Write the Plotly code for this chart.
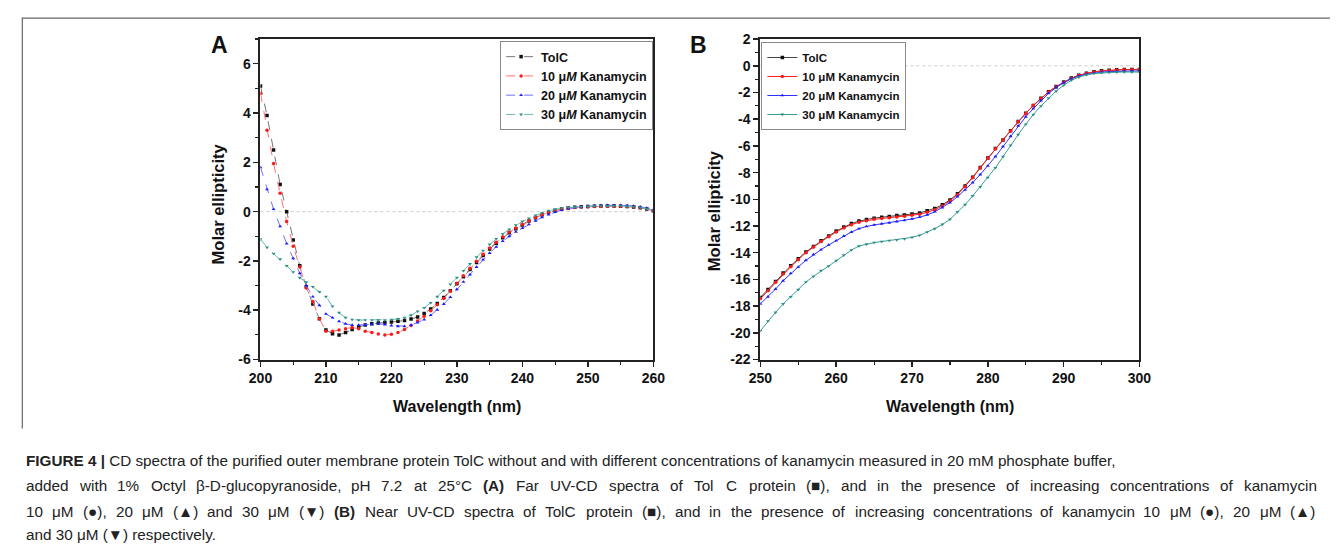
import plotly.graph_objects as go

W, H = 1342, 554

# ---------------- data ----------------
wl_a = list(range(200, 261))
tolc_a = [5.1, 3.9, 2.5, 1.1, 0.0, -1.15, -2.2, -3.05, -3.75, -4.35, -4.8,
          -4.95, -5.0, -4.9, -4.78, -4.68, -4.6, -4.55, -4.52, -4.5, -4.48,
          -4.45, -4.42, -4.36, -4.27, -4.13, -3.95, -3.73, -3.48, -3.21, -2.93,
          -2.64, -2.35, -2.06, -1.78, -1.52, -1.28, -1.06, -0.86, -0.69, -0.54,
          -0.38, -0.25, -0.13, -0.03, 0.05, 0.11, 0.15, 0.18, 0.2, 0.21,
          0.22, 0.23, 0.23, 0.23, 0.22, 0.21, 0.19, 0.16, 0.11, 0.04]
kan10_a = [4.8, 3.3, 1.95, 0.75, -0.4, -1.4, -2.25, -3.1, -3.65, -4.35, -4.85,
           -4.85, -4.8, -4.75, -4.7, -4.75, -4.85, -4.9, -4.96, -5.0, -4.97,
           -4.9, -4.78, -4.62, -4.44, -4.24, -4.02, -3.78, -3.52, -3.22, -2.9,
           -2.6, -2.3, -2.01, -1.73, -1.47, -1.24, -1.02, -0.83, -0.66, -0.51,
           -0.37, -0.24, -0.12, -0.03, 0.05, 0.1, 0.14, 0.17, 0.19, 0.2,
           0.21, 0.21, 0.22, 0.22, 0.22, 0.21, 0.2, 0.17, 0.12, 0.05]
kan20_a = [1.8, 0.9, 0.1, -0.6, -1.3, -1.9, -2.5, -3.0, -3.45, -3.8, -4.15,
           -4.3, -4.45, -4.55, -4.6, -4.6, -4.6, -4.57, -4.55, -4.58, -4.62,
           -4.65, -4.65, -4.6, -4.5, -4.38, -4.2, -3.98, -3.75, -3.47, -3.15,
           -2.85, -2.55, -2.25, -1.95, -1.68, -1.43, -1.2, -1.0, -0.82, -0.67,
           -0.52, -0.37, -0.23, -0.12, -0.02, 0.06, 0.12, 0.17, 0.2, 0.22,
           0.24, 0.25, 0.26, 0.26, 0.26, 0.25, 0.23, 0.2, 0.15, 0.08]
kan30_a = [-1.12, -1.45, -1.7, -1.93, -2.2, -2.45, -2.68, -2.86, -3.05, -3.25, -3.45,
           -3.84, -4.1, -4.3, -4.38, -4.4, -4.4, -4.4, -4.4, -4.4, -4.38,
           -4.35, -4.3, -4.2, -4.05, -3.9, -3.7, -3.45, -3.2, -2.95, -2.68,
           -2.4, -2.12, -1.85, -1.58, -1.33, -1.1, -0.9, -0.72, -0.55, -0.4,
           -0.27, -0.15, -0.05, 0.04, 0.1, 0.14, 0.17, 0.19, 0.2, 0.21,
           0.22, 0.23, 0.23, 0.23, 0.23, 0.22, 0.2, 0.17, 0.12, 0.06]

wl_b = list(range(250, 301))
tolc_b = [-17.35, -16.76, -16.15, -15.52, -14.98, -14.45, -13.94, -13.53, -13.11, -12.75,
          -12.38, -12.07, -11.82, -11.63, -11.51, -11.41, -11.34, -11.29, -11.22, -11.17,
          -11.1, -11.02, -10.85, -10.68, -10.41, -10.05, -9.58, -9.0, -8.35, -7.62,
          -6.9, -6.2, -5.55, -4.87, -4.18, -3.55, -2.97, -2.43, -1.95, -1.56,
          -1.22, -0.92, -0.7, -0.55, -0.45, -0.38, -0.33, -0.3, -0.28, -0.27, -0.27]
kan10_b = [-17.45, -16.85, -16.22, -15.6, -15.05, -14.52, -14.0, -13.58, -13.16, -12.8,
           -12.45, -12.14, -11.9, -11.72, -11.6, -11.5, -11.43, -11.38, -11.32, -11.27,
           -11.2, -11.12, -10.97, -10.78, -10.5, -10.12, -9.65, -9.05, -8.38, -7.65,
           -6.92, -6.22, -5.55, -4.88, -4.2, -3.57, -2.98, -2.45, -1.97, -1.58,
           -1.24, -0.95, -0.73, -0.57, -0.47, -0.4, -0.35, -0.32, -0.3, -0.29, -0.28]
kan20_b = [-17.83, -17.3, -16.72, -16.1, -15.55, -15.06, -14.57, -14.14, -13.77, -13.42,
           -13.1, -12.75, -12.45, -12.2, -12.03, -11.92, -11.83, -11.76, -11.67, -11.58,
           -11.47, -11.34, -11.17, -10.93, -10.62, -10.25, -9.8, -9.3, -8.75, -8.15,
           -7.5, -6.8, -6.05, -5.28, -4.5, -3.82, -3.21, -2.6, -2.07, -1.63,
           -1.27, -0.98, -0.78, -0.64, -0.55, -0.48, -0.44, -0.42, -0.4, -0.39, -0.38]
kan30_b = [-19.85, -19.12, -18.47, -17.84, -17.3, -16.77, -16.2, -15.77, -15.35, -15.0,
           -14.6, -14.18, -13.8, -13.5, -13.36, -13.24, -13.16, -13.09, -13.04, -12.97,
           -12.85, -12.7, -12.45, -12.2, -11.88, -11.5, -10.95, -10.4, -9.75, -9.07,
           -8.37, -7.64, -6.81, -5.96, -5.16, -4.38, -3.65, -3.02, -2.43, -1.9,
           -1.46, -1.09, -0.85, -0.68, -0.58, -0.53, -0.5, -0.48, -0.47, -0.47, -0.47]

names_a = ["TolC", "10 μ<i>M</i> Kanamycin", "20 μ<i>M</i> Kanamycin", "30 μ<i>M</i> Kanamycin"]
names_b = ["TolC", "10 μM Kanamycin", "20 μM Kanamycin", "30 μM Kanamycin"]
series_a = [tolc_a, kan10_a, kan20_a, kan30_a]
series_b = [tolc_b, kan10_b, kan20_b, kan30_b]
marker_colors = ["#111111", "#ff1a1a", "#1a1aff", "#2a8f86"]
line_colors_a = ["#777777", "#ff7070", "#7070ff", "#6ab8b0"]
line_colors_b = ["#444444", "#ff2020", "#3030ff", "#3a9e94"]
symbols = ["square", "circle", "triangle-up", "triangle-down"]

yticks_a = [-6, -4, -2, 0, 2, 4, 6]
yticks_b = [2, 0, -2, -4, -6, -8, -10, -12, -14, -16, -18, -20, -22]
xticks_a = [200, 210, 220, 230, 240, 250, 260]
xticks_b = [250, 260, 270, 280, 290, 300]

caption_lines = [
    "**FIGURE** **4** **|** CD spectra of the purified outer membrane protein TolC without and with different concentrations of kanamycin measured in 20 mM phosphate buffer,",
    "added with 1% Octyl β-D-glucopyranoside, pH 7.2 at 25°C **(A)** Far UV-CD spectra of Tol C protein (■), and in the presence of increasing concentrations of kanamycin",
    "10 μM (●), 20 μM (▲) and 30 μM (▼) **(B)** Near UV-CD spectra of TolC protein (■), and in the presence of increasing concentrations of kanamycin 10 μM (●), 20 μM (▲)",
    "and 30 μM (▼) respectively.",
]
caption_justified = [False, True, True, False]

FONT = "Liberation Sans, Arial, Helvetica, sans-serif"

fig = go.Figure()
for i in range(4):
    fig.add_trace(go.Scatter(
        x=wl_a, y=series_a[i], name=names_a[i], mode="lines+markers",
        line=dict(color=line_colors_a[i], width=1, dash="dash"),
        marker=dict(symbol=symbols[i], size=3.5, color=marker_colors[i]),
        xaxis="x", yaxis="y", legend="legend"))
for i in range(4):
    fig.add_trace(go.Scatter(
        x=wl_b, y=series_b[i], name=names_b[i], mode="lines+markers",
        line=dict(color=line_colors_b[i], width=1),
        marker=dict(symbol=symbols[i], size=3.5, color=marker_colors[i]),
        xaxis="x2", yaxis="y2", legend="legend2"))

def px_x(p):
    return p / W

def px_y(p):
    return 1 - p / H

tickfont = dict(family=FONT, size=14, color="#111", weight="bold")

def xax(domain, rng, ticks):
    return dict(domain=domain, range=rng, tickvals=ticks, ticktext=[str(t) for t in ticks],
                showline=True, linecolor="#222", linewidth=2, mirror=True,
                ticks="outside", ticklen=5, tickwidth=1.5, tickcolor="#222",
                minor=dict(dtick=5, ticks="outside", ticklen=3, tickwidth=1.2, tickcolor="#222"),
                showgrid=False, zeroline=False, tickfont=tickfont, fixedrange=True)

def yax(domain, rng, ticks, anchor):
    return dict(domain=domain, range=rng, tickvals=ticks,
                ticktext=[str(t) for t in ticks], anchor=anchor,
                showline=True, linecolor="#222", linewidth=2, mirror=True,
                ticks="outside", ticklen=5, tickwidth=1.5, tickcolor="#222",
                minor=dict(dtick=1, ticks="outside", ticklen=3, tickwidth=1.2, tickcolor="#222"),
                showgrid=False, zeroline=False, tickfont=tickfont, fixedrange=True)

ydom = [px_y(362), px_y(32)]
fig.update_layout(
    width=W, height=H, margin=dict(l=0, r=0, t=0, b=0),
    paper_bgcolor="white", plot_bgcolor="white",
    showlegend=True, hovermode=False,
    xaxis=xax([px_x(253), px_x(653)], [200, 260], xticks_a) | dict(anchor="y"),
    yaxis=yax(ydom, [-6, 7], yticks_a, "x"),
    xaxis2=xax([px_x(762), px_x(1148)], [250, 300], xticks_b) | dict(anchor="y2"),
    yaxis2=yax(ydom, [-22, 2], yticks_b, "x2"),
    legend=dict(x=px_x(497), y=px_y(34), xanchor="left", yanchor="top",
                bgcolor="white", bordercolor="#888", borderwidth=1,
                font=dict(family=FONT, size=12.5, color="#111", weight="bold"),
                itemwidth=30, tracegroupgap=0),
    legend2=dict(x=px_x(763), y=px_y(35), xanchor="left", yanchor="top",
                 bgcolor="white", bordercolor="#888", borderwidth=1,
                 font=dict(family=FONT, size=11.5, color="#111", weight="bold"),
                 itemwidth=30, tracegroupgap=0),
)

shapes = [
    dict(type="line", xref="x domain", yref="y", x0=0, x1=1, y0=0, y1=0,
         line=dict(color="#cccccc", width=1, dash="dot"), layer="below"),
    dict(type="line", xref="x2 domain", yref="y2", x0=0, x1=1, y0=0, y1=0,
         line=dict(color="#cccccc", width=1, dash="dot"), layer="below"),
    dict(type="line", xref="paper", yref="paper", x0=px_x(10), x1=1, y0=px_y(10.5), y1=px_y(10.5),
         line=dict(color="#666", width=1.2)),
    dict(type="line", xref="paper", yref="paper", x0=px_x(10.5), x1=px_x(10.5), y0=px_y(10), y1=px_y(433),
         line=dict(color="#666", width=1.2)),
]
fig.update_layout(shapes=shapes)

ann = []

def note(text, x, y, font, xanchor="center", yanchor="middle", angle=0):
    return dict(text=text, x=px_x(x), y=px_y(y), xref="paper", yref="paper",
                xanchor=xanchor, yanchor=yanchor, showarrow=False, textangle=angle,
                font=font, borderpad=0)

lab = dict(family=FONT, size=16.5, color="#111", weight="bold")
big = dict(family=FONT, size=23, color="#111", weight="bold")
ann.append(note("A", 211, 38, big))
ann.append(note("B", 699, 38, big))
ann.append(note("Molar ellipticity", 210, 202, lab, angle=-90))
ann.append(note("Molar ellipticity", 715, 209, lab, angle=-90))
lab2 = dict(family=FONT, size=16, color="#111", weight="bold")
ann.append(note("Wavelength (nm)", 453, 410, lab2))
ann.append(note("Wavelength (nm)", 955, 410, lab2))

# --- caption: Arial-metric widths, used only to lay words out (justified lines) ---
ARIAL = {" ": 278, "%": 889, "(": 333, ")": 333, ",": 278, "-": 333, ".": 278, "|": 260,
         "°": 400, "β": 573, "μ": 576, "■": 604, "●": 604, "▲": 990, "▼": 990}
for ch in "0123456789":
    ARIAL[ch] = 556
for ch, w in zip("ABCDEFGHIJKLMNOPQRSTUVWXYZ",
                 [667, 667, 722, 722, 667, 611, 778, 722, 278, 500, 667, 556, 833,
                  722, 778, 667, 778, 722, 667, 611, 722, 667, 944, 667, 667, 611]):
    ARIAL[ch] = w
for ch, w in zip("abcdefghijklmnopqrstuvwxyz",
                 [556, 556, 500, 556, 556, 278, 556, 556, 222, 222, 500, 222, 833,
                  556, 556, 556, 556, 333, 500, 278, 556, 500, 722, 500, 500, 500]):
    ARIAL[ch] = w

def em_width(s, bold=False):
    w = sum(ARIAL.get(ch, 556) for ch in s) / 1000.0
    return w * (1.07 if bold else 1.0)

def tokens(line):
    out = []
    for wd in line.split(" "):
        b = wd.startswith("**") and wd.endswith("**") and len(wd) > 4
        if b:
            wd = wd[2:-2]
        out.append((wd, b))
    return out

CAP_LEFT, CAP_RIGHT_JUST, CAP_RIGHT_L1 = 13, 1326, 1111
toks1 = tokens(caption_lines[0])
nat1 = sum(em_width(w, b) for w, b in toks1) + em_width(" ") * (len(toks1) - 1)
cap_size = (CAP_RIGHT_L1 - CAP_LEFT) / nat1
capfont = dict(family=FONT, size=cap_size, color="#222")
cap_y = [466, 492, 518, 542]

def html(wd, b):
    return f"<b>{wd}</b>" if b else wd

for line, just, yy in zip(caption_lines, caption_justified, cap_y):
    toks = tokens(line)
    if not just:
        txt = " ".join(html(w, b) for w, b in toks)
        ann.append(note(txt, CAP_LEFT, yy, capfont, xanchor="left"))
        continue
    widths = [em_width(w, b) * cap_size for w, b in toks]
    gap = (CAP_RIGHT_JUST - CAP_LEFT - sum(widths)) / (len(toks) - 1)
    x = CAP_LEFT
    for (w, b), wd in zip(toks, widths):
        ann.append(note(html(w, b), x, yy, capfont, xanchor="left"))
        x += wd + gap

fig.update_layout(annotations=ann)

fig.write_html("out.html", config={"displayModeBar": False, "staticPlot": True},
               post_script="document.body.style.margin='0';")
